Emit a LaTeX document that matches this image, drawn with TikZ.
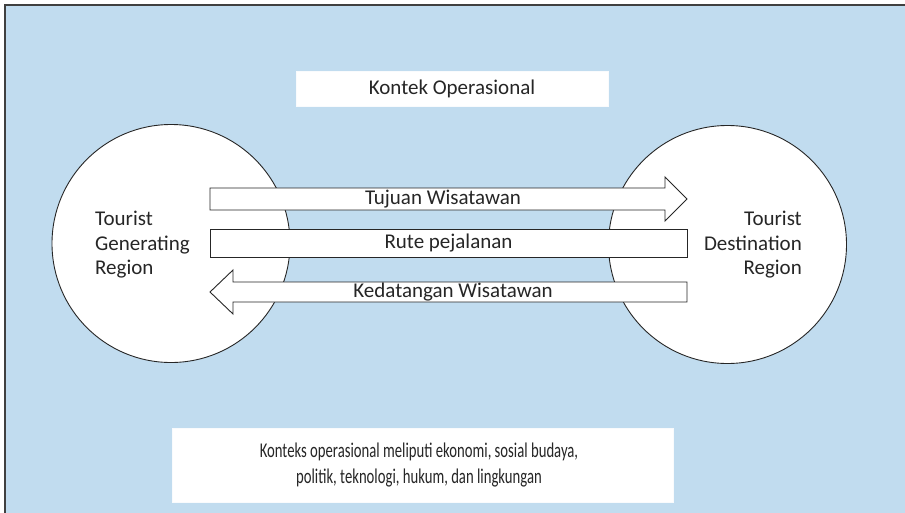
\documentclass[tikz,border=0pt]{standalone}
\usepackage{fontspec}
\setmainfont{Carlito}
\definecolor{panel}{HTML}{C1DCEF}
\definecolor{ink}{HTML}{262626}
\begin{document}
\begin{tikzpicture}[x=1pt,y=-1pt,
  region/.style={circle, draw=black!85, line width=0.9pt, fill=white, minimum size=238pt, inner sep=0pt},
  blockarrow/.style={draw=black!85, line width=0.9pt, fill=white, line join=miter},
  whitebox/.style={fill=white, draw=white!90!panel, line width=0.6pt, inner sep=0pt},
  label/.style={text=ink, font=\fontsize{21}{24.5}\selectfont, inner sep=0pt}]
  \useasboundingbox (0,0) rectangle (905,512);
  \begin{scope}
    \clip (0,0) rectangle (905,512);
    \fill[white] (0,0) rectangle (905,512);
    % panel with its frame running past the page edges
    \draw[fill=panel, draw=black!75, line width=1.6pt] (5,5) rectangle (920,530);
  \end{scope}

  % heading box
  \node[whitebox, minimum width=312pt, minimum height=35pt] (head) at (452,88.5) {};
  \node[label] (headtxt) at (head.center) {Kontek Operasional};

  % the two regions
  \node[region] (gen) at (171,243.5) {};
  \node[region] (dest) at (727.5,244.5) {};
  \node[label, align=left, anchor=west] (gentxt) at (95,245) {Tourist\\Generating\\Region};
  \node[label, align=right, anchor=east] (desttxt) at (802,245) {Tourist\\Destination\\Region};

  % flows between the regions
  \coordinate (a1) at (210,199);
  \coordinate (a2) at (687,199);
  \draw[blockarrow] (a1) ++(0,-11) -- (665,188) -- (665,177) -- (a2) -- (665,221) -- (665,210) -- (210,210) -- cycle;
  \node[label] (t1) at (443,199) {Tujuan Wisatawan};

  \node[blockarrow, minimum width=477pt, minimum height=28pt, inner sep=0pt] (route) at (448.5,243) {};
  \node[label] (t2) at (route.center) {Rute pejalanan};

  \coordinate (b1) at (687,292);
  \coordinate (b2) at (210,292);
  \draw[blockarrow] (b1) ++(0,-10) -- (233,282) -- (233,270) -- (b2) -- (233,314) -- (233,302) -- (687,302) -- cycle;
  \node[label] (t3) at (453,292) {Kedatangan Wisatawan};

  % note box at the bottom
  \node[whitebox, minimum width=501pt, minimum height=74pt] (note) at (422.5,465) {};
  \node[label] (n1) at (419,452) {\scalebox{0.7}[1]{Konteks operasional meliputi ekonomi, sosial budaya,}};
  \node[label] (n2) at (419,478) {\scalebox{0.7}[1]{politik, teknologi, hukum, dan lingkungan}};
\end{tikzpicture}
\end{document}
